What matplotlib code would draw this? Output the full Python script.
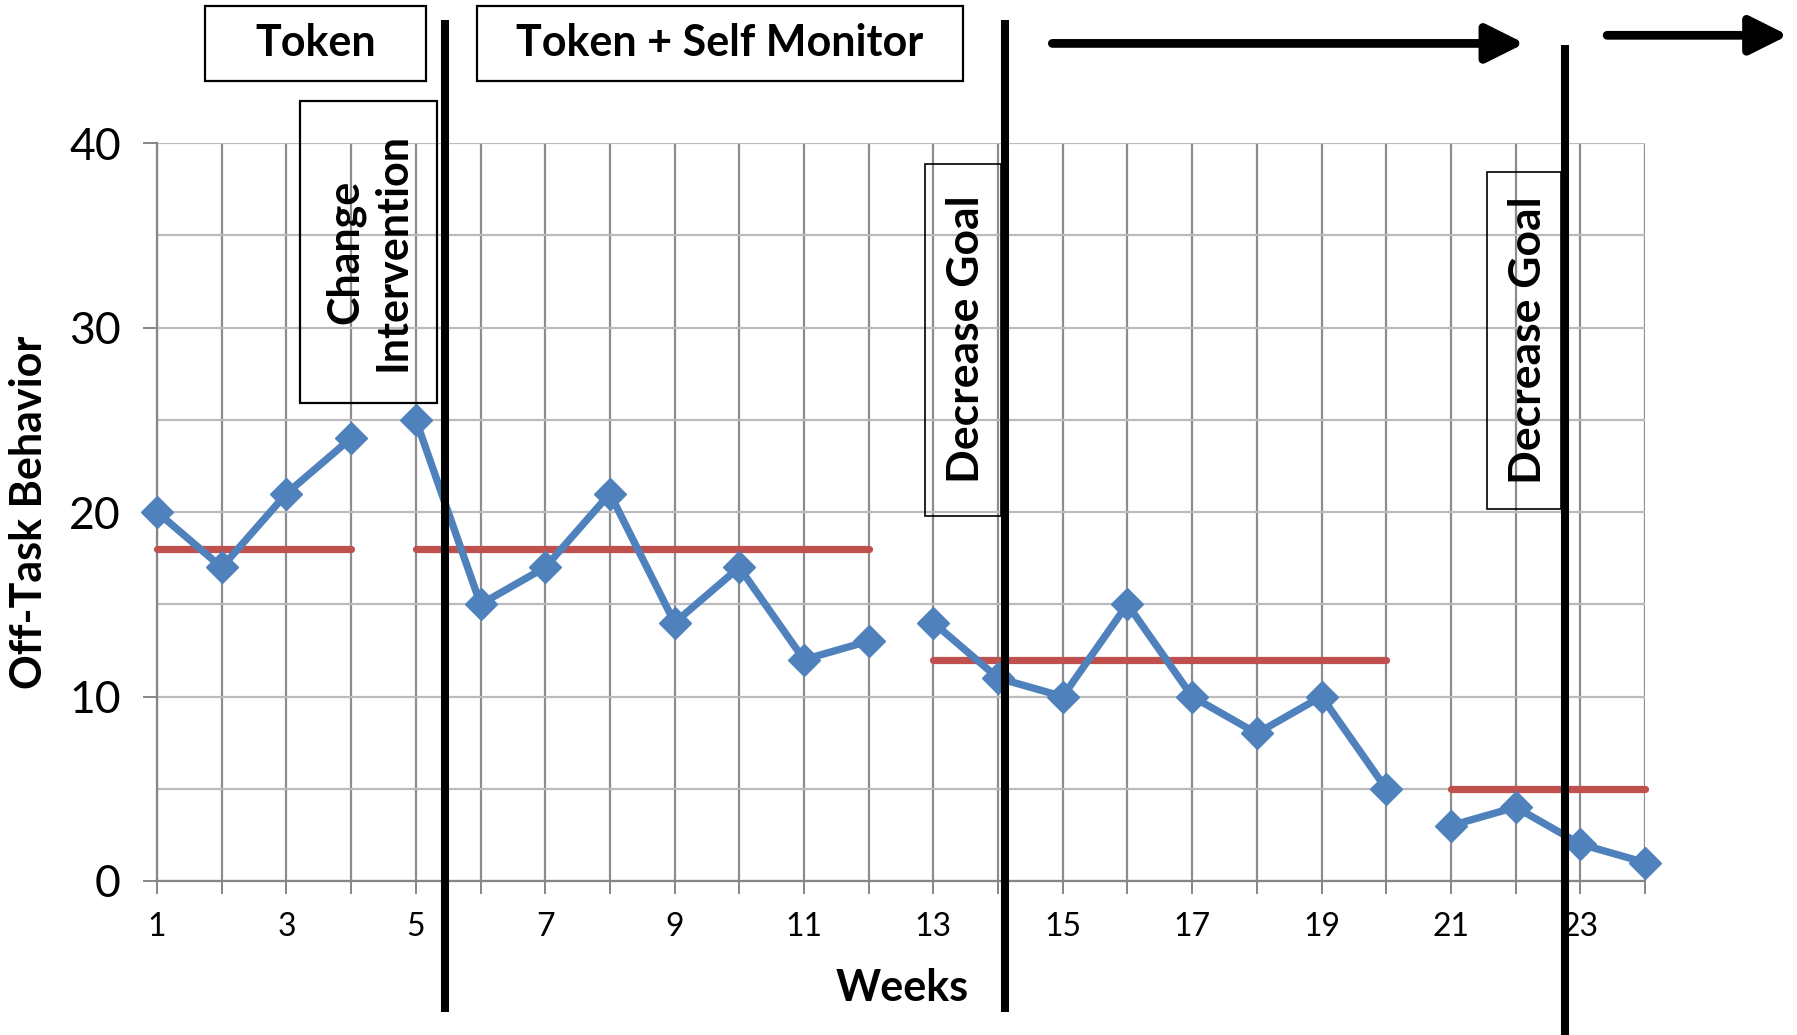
import matplotlib.pyplot as plt
from matplotlib.patches import Rectangle
import numpy as np

plt.rcParams['font.family'] = ['Lato', 'DejaVu Sans']

# Weekly off-task counts
weeks = np.arange(1, 25)
off_task = [20, 17, 21, 24, 25, 15, 17, 21, 14, 17, 12, 13,
            14, 11, 10, 15, 10, 8, 10, 5, 3, 4, 2, 1]

# Phases (first week, last week) and the goal level in each
phase_ranges = [(1, 4), (5, 12), (13, 20), (21, 24)]
goal_levels = [18, 18, 12, 5]

# Condition change lines (in weeks)
change_weeks = [5.45, 14.1, 22.76]

blue = '#4F81BD'
red = '#C0504D'

fig = plt.figure(figsize=(17.97, 10.35), dpi=100)
ax = fig.add_axes([0.0874, 0.1488, 0.8280, 0.7130])

for (start, end), goal in zip(phase_ranges, goal_levels):
    mask = (weeks >= start) & (weeks <= end)
    ax.plot(weeks[mask], np.array(off_task)[mask], color=blue, lw=5.3,
            marker='D', markersize=16, clip_on=False, zorder=4)
    ax.plot([start, end], [goal, goal], color=red, lw=5.2,
            solid_capstyle='round', clip_on=False, zorder=3)

ax.set_xlim(1, 24)
ax.set_ylim(0, 40)
ax.set_xticks(weeks)
ax.set_xticklabels([str(w) if w % 2 == 1 else '' for w in weeks])
ax.set_yticks(np.arange(0, 41, 10))
ax.set_yticks(np.arange(5, 40, 10), minor=True)

ax.grid(axis='x', color='#8C8C8C', lw=1.6, zorder=0)
ax.grid(axis='y', which='both', color='#BBBBBB', lw=1.6, zorder=0)
ax.set_axisbelow(True)

for side in ['top', 'right']:
    ax.spines[side].set_visible(False)
for side in ['left', 'bottom']:
    ax.spines[side].set_color('#868686')
    ax.spines[side].set_linewidth(1.6)

ax.tick_params(axis='x', direction='out', length=9, width=1.4,
               color='#868686', labelsize=23, pad=13)
ax.tick_params(axis='y', direction='out', length=10, width=1.4,
               color='#868686', labelsize=32, pad=16)
ax.tick_params(axis='y', which='minor', length=0)

ax.set_xlabel('Weeks', fontsize=31, fontweight='bold', va='center')
ax.xaxis.set_label_coords(0.5008, -0.1444)
ax.set_ylabel('Off-Task Behavior', fontsize=31, fontweight='bold', va='center')
ax.yaxis.set_label_coords(-0.0863, 0.5)

# Phase change lines
ax.plot([change_weeks[0]] * 2, [-7.1, 46.65], color='black', lw=5.8,
        solid_capstyle='butt', clip_on=False, zorder=6)
ax.plot([change_weeks[1]] * 2, [-7.1, 46.65], color='black', lw=5.8,
        solid_capstyle='butt', clip_on=False, zorder=6)
ax.plot([change_weeks[2]] * 2, [-8.4, 45.3], color='black', lw=5.8,
        solid_capstyle='butt', clip_on=False, zorder=6)

# Phase label boxes
def label_box(x0, x1, y0, y1, text, rotation=0, lw=1.6, tx=None, ty=None,
              size=31, spacing=1.0):
    ax.add_patch(Rectangle((x0, y0), x1 - x0, y1 - y0, fill=False,
                           edgecolor='black', lw=lw, clip_on=False, zorder=5))
    tx = (x0 + x1) / 2 if tx is None else tx
    ty = (y0 + y1) / 2 if ty is None else ty
    ax.text(tx, ty, text, ha='center', va='center', rotation=rotation,
            fontsize=size, fontweight='bold', multialignment='center',
            linespacing=spacing, clip_on=False, zorder=7)

label_box(1.744, 5.164, 43.35, 47.45, 'Token', size=31)
label_box(5.944, 13.457, 43.35, 47.45, 'Token + Self Monitor', size=31)
label_box(3.215, 5.324, 25.90, 42.30, 'Change\nIntervention', rotation=90,
          size=31, spacing=1.2, tx=4.27)
label_box(12.872, 14.042, 19.81, 38.88, 'Decrease Goal', rotation=90,
          lw=1.2, tx=13.51, size=32)
label_box(21.555, 22.707, 20.19, 38.45, 'Decrease Goal', rotation=90,
          lw=1.2, tx=22.19, size=32)

# Arrows pointing to continuing phases
arrow_style = '-|>,head_length=2.3,head_width=1.15'
ax.annotate('', xy=(22.14, 45.40), xytext=(14.839, 45.40),
            arrowprops=dict(arrowstyle=arrow_style, lw=6.3, color='black',
                            shrinkA=0, shrinkB=0),
            annotation_clip=False)
ax.annotate('', xy=(26.215, 45.84), xytext=(23.415, 45.84),
            arrowprops=dict(arrowstyle=arrow_style, lw=6.3, color='black',
                            shrinkA=0, shrinkB=0),
            annotation_clip=False)

fig.savefig('out.png', dpi=100)
